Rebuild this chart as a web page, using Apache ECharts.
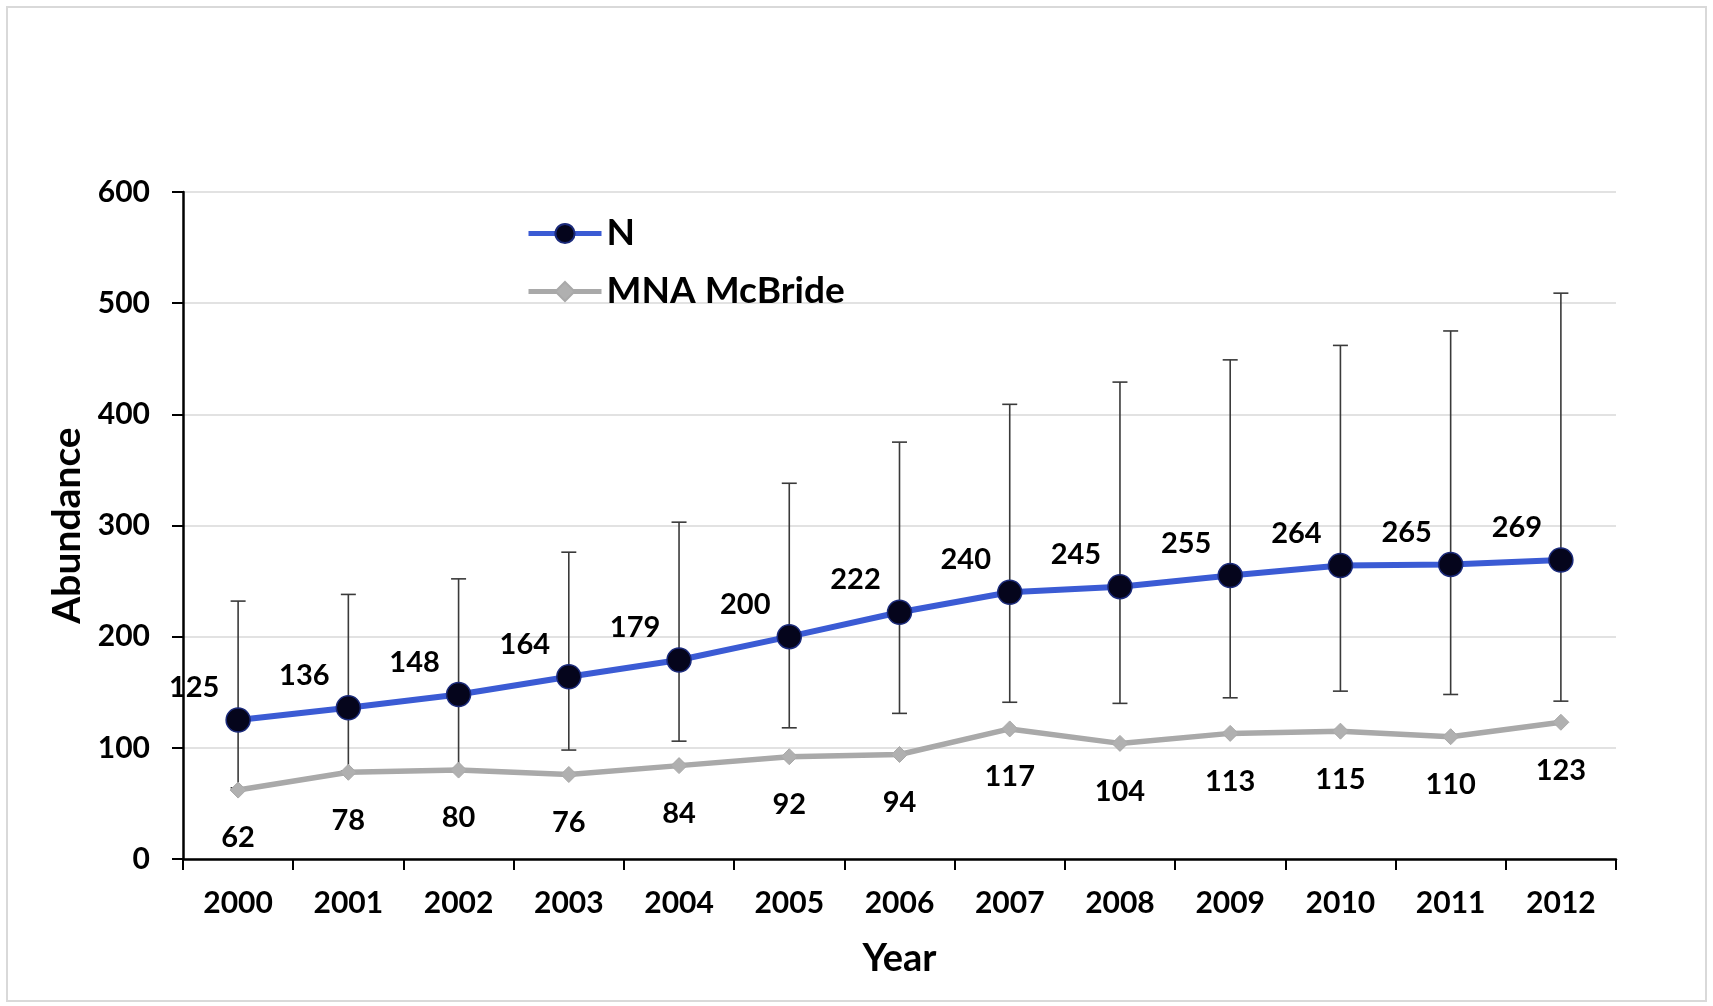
<!DOCTYPE html>
<html>
<head>
<meta charset="utf-8">
<title>Abundance by year</title>
<script src="https://cdn.jsdelivr.net/npm/echarts@6/dist/echarts.min.js"></script>
<style>
  html, body { margin: 0; padding: 0; background: #ffffff; }
  #chart { width: 1713px; height: 1006px; }
</style>
</head>
<body>
<div id="chart"></div>
<script>
// Survey years
const years = ['2000', '2001', '2002', '2003', '2004', '2005', '2006', '2007', '2008', '2009', '2010', '2011', '2012'];
// Estimated abundance N with its lower / upper interval bounds
const nEstimate = [125, 136, 148, 164, 179, 200, 222, 240, 245, 255, 264, 265, 269];
const nLower = [64, 79, 81, 98, 106, 118, 131, 141, 140, 145, 151, 148, 142];
const nUpper = [232, 238, 252, 276, 303, 338, 375, 409, 429, 449, 462, 475, 509];
// Minimum number alive (McBride)
const mnaMcBride = [62, 78, 80, 76, 84, 92, 94, 117, 104, 113, 115, 110, 123];
// Value axis ticks
const yTicks = [0, 100, 200, 300, 400, 500, 600];

const FONT = 'Lato';
const chart = echarts.init(document.getElementById('chart'), null, { renderer: 'canvas' });

const intervalData = years.map((y, i) => [i, nLower[i], nUpper[i]]);

chart.setOption({
  backgroundColor: '#ffffff',
  animation: false,
  textStyle: { fontFamily: FONT, fontWeight: 'bold', color: '#000' },
  graphic: [{
    type: 'rect',
    silent: true,
    shape: { x: 7, y: 7, width: 1699, height: 994 },
    style: { fill: 'none', stroke: '#d9d9d9', lineWidth: 2 }
  }],
  grid: { left: 183, right: 97, top: 192, bottom: 147, containLabel: false },
  legend: {
    orient: 'vertical',
    left: 521,
    top: 210,
    itemWidth: 73,
    itemHeight: 24,
    itemGap: 21,
    selectedMode: false,
    textStyle: { fontFamily: FONT, fontWeight: 'bold', fontSize: 37, color: '#000' },
    data: [
      { name: 'N', lineStyle: { width: 5 } },
      { name: 'MNA McBride', lineStyle: { width: 5 } }
    ]
  },
  xAxis: {
    type: 'category',
    data: years,
    boundaryGap: true,
    name: 'Year',
    nameLocation: 'middle',
    nameGap: 81,
    nameTextStyle: { fontFamily: FONT, fontWeight: 'bold', fontSize: 38, color: '#000' },
    axisLine: { lineStyle: { color: '#000', width: 2.5 } },
    axisTick: { show: true, length: 11, lineStyle: { color: '#000', width: 2 } },
    axisLabel: { margin: 29, fontFamily: FONT, fontWeight: 'bold', fontSize: 30, color: '#000' },
    splitLine: { show: false }
  },
  yAxis: {
    type: 'value',
    min: yTicks[0],
    max: yTicks[yTicks.length - 1],
    interval: yTicks[1] - yTicks[0],
    name: 'Abundance',
    nameLocation: 'middle',
    nameRotate: 90,
    nameGap: 96,
    nameTextStyle: { fontFamily: FONT, fontWeight: 'bold', fontSize: 39, color: '#000' },
    axisLine: { show: true, lineStyle: { color: '#000', width: 2.5 } },
    axisTick: { show: true, length: 11, lineStyle: { color: '#000', width: 2 } },
    axisLabel: { margin: 33, fontFamily: FONT, fontWeight: 'bold', fontSize: 30, color: '#000' },
    splitLine: { show: true, lineStyle: { color: '#d9d9d9', width: 1.5 } }
  },
  series: [
    {
      name: 'interval',
      type: 'custom',
      z: 1,
      silent: true,
      data: intervalData,
      encode: { x: 0, y: [1, 2] },
      renderItem: function (params, api) {
        const x = api.value(0);
        const lo = api.coord([x, api.value(1)]);
        const hi = api.coord([x, api.value(2)]);
        const cap = 7.5;
        const style = { stroke: '#3a3a3a', lineWidth: 1.6 };
        return {
          type: 'group',
          children: [
            { type: 'line', shape: { x1: lo[0], y1: lo[1], x2: hi[0], y2: hi[1] }, style: style },
            { type: 'line', shape: { x1: hi[0] - cap, y1: hi[1], x2: hi[0] + cap, y2: hi[1] }, style: style },
            { type: 'line', shape: { x1: lo[0] - cap, y1: lo[1], x2: lo[0] + cap, y2: lo[1] }, style: style }
          ]
        };
      }
    },
    {
      name: 'MNA McBride',
      type: 'line',
      z: 3,
      data: mnaMcBride,
      symbol: 'diamond',
      symbolSize: 16,
      lineStyle: { color: '#a9a9a9', width: 5.5 },
      itemStyle: { color: '#b0b0b0', borderColor: '#a9a9a9', borderWidth: 1 },
      label: {
        show: true,
        position: 'bottom',
        distance: 25,
        fontFamily: FONT,
        fontWeight: 'bold',
        fontSize: 29,
        color: '#000'
      }
    },
    {
      name: 'N',
      type: 'line',
      z: 4,
      data: nEstimate,
      symbol: 'circle',
      symbolSize: 24,
      lineStyle: { color: '#3b5bd4', width: 6 },
      itemStyle: { color: '#05051c', borderColor: '#1b2a7a', borderWidth: 1.5 },
      label: {
        show: true,
        position: 'top',
        distance: 5,
        offset: [-44, 0],
        fontFamily: FONT,
        fontWeight: 'bold',
        fontSize: 29,
        color: '#000'
      }
    }
  ]
});
</script>
</body>
</html>
